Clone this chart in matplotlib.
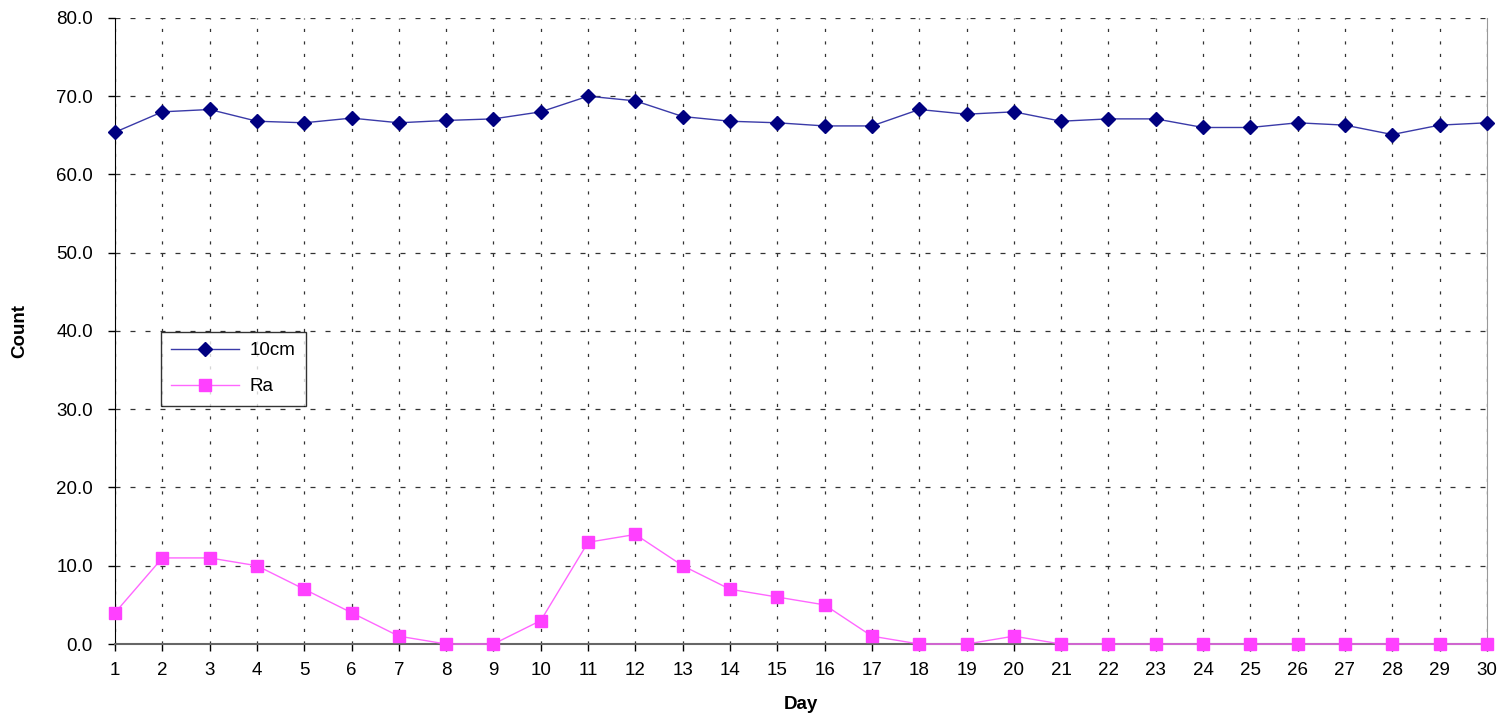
import numpy as np
import matplotlib.pyplot as plt

plt.rcParams['font.family'] = ['Liberation Sans', 'DejaVu Sans']

# Datos
days = list(range(1, 31))
cm10 = [65.4, 68.0, 68.3, 66.8, 66.6, 67.2, 66.6, 66.9, 67.1, 68.0,
        70.0, 69.4, 67.4, 66.8, 66.6, 66.2, 66.2, 68.3, 67.7, 68.0,
        66.8, 67.1, 67.1, 66.0, 66.0, 66.6, 66.3, 65.1, 66.3, 66.6]
ra = [4, 11, 11, 10, 7, 4, 1, 0, 0, 3,
      13, 14, 10, 7, 6, 5, 1, 0, 0, 1,
      0, 0, 0, 0, 0, 0, 0, 0, 0, 0]
y_ticks = np.arange(0, 81, 10)

fs = 13.5

fig = plt.figure(figsize=(15.08, 7.17), dpi=100)
ax = fig.add_axes([0.0763, 0.1018, 0.9097, 0.8732])

ax.plot(days, cm10, color='#3a3aa8', lw=1.0, marker='D', ms=7,
        mfc='#000080', mec='#000080', label='10cm', clip_on=False, zorder=4)
ax.plot(days, ra, color='#ff66ff', lw=1.0, marker='s', ms=8,
        mfc='#ff40ff', mec='#ff40ff', label='Ra', clip_on=False, zorder=4)

ax.set_xlim(1, 30)
ax.set_ylim(0, 80)
ax.set_xticks(days)
ax.set_yticks(y_ticks)
ax.set_yticklabels([f'{v:.1f}' for v in y_ticks])
ax.tick_params(axis='both', labelsize=fs, direction='out', length=5, width=1)
ax.tick_params(axis='y', pad=11)
ax.tick_params(axis='x', pad=8)

# rejilla: horizontal discontinua, vertical punteada
ax.yaxis.grid(True, color='#333333', lw=0.9, linestyle=(0, (4, 8)))
ax.xaxis.grid(True, color='#333333', lw=0.9, linestyle=(0, (2.5, 7.5)))
ax.set_axisbelow(True)

ax.spines['top'].set_visible(False)
ax.spines['left'].set_color('black')
ax.spines['bottom'].set_color('#666666')
ax.spines['bottom'].set_linewidth(1.5)
ax.spines['right'].set_color('#999999')

ax.set_xlabel('Day', fontsize=fs, fontweight='bold', labelpad=12)
ax.set_ylabel('Count', fontsize=fs, fontweight='bold', labelpad=20)

leg = ax.legend(loc='upper left', bbox_to_anchor=(0.0265, 0.5135), fontsize=fs,
                frameon=True, fancybox=False, edgecolor='black',
                handlelength=3.6, handletextpad=0.6, borderpad=0.55,
                labelspacing=1.0)
leg.get_frame().set_linewidth(1.0)

fig.savefig('out.png', dpi=100)
